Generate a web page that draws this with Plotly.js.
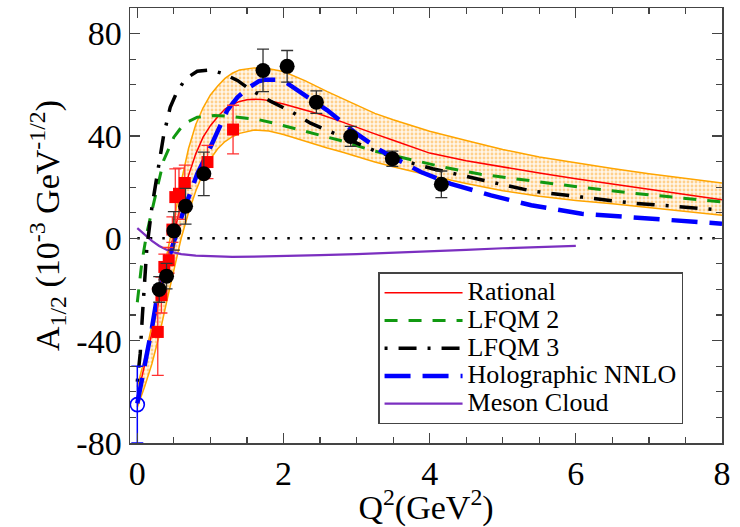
<!DOCTYPE html>
<html>
<head>
<meta charset="utf-8">
<script src="https://cdn.plot.ly/plotly-3.0.1.min.js"></script>
<style>html,body{margin:0;padding:0;background:#fff}#chart{width:740px;height:527px}</style>
</head>
<body>
<div id="chart"></div>
<script>
// ---- Data ----
const bandX = [0,0.1,0.2,0.3,0.4,0.5,0.6,0.7,0.8,0.9,1.0,1.1,1.2,1.3,1.4,1.6,1.8,2.0,2.3,2.6,2.8,3.0,3.25,3.5,3.75,4.0,4.5,5.0,5.5,6.0,6.5,7.0,7.5,8.0];
const bandUpper = [-58,-47,-34,-21,-7,7,22,35,44.5,51,56,59.5,62.5,64.5,65.8,66.6,66.3,65.2,61.5,57.3,54.6,52,48.8,46.3,44,41.8,38.2,34.7,31.8,29.4,27.3,25.2,23.3,21.6];
const bandLower = [-66,-58,-49,-38,-25,-12,0,10,18.5,25.5,31,35,37.8,39.7,41,42.3,41.9,40.6,37.8,35.3,33.7,32,29.8,28,26.2,24.5,21.4,18.6,16.4,14.8,13.5,12,10.4,9];

const rationalX = [0,0.1,0.2,0.3,0.4,0.5,0.6,0.7,0.8,0.9,1.0,1.1,1.2,1.3,1.4,1.5,1.6,1.7,1.8,2.0,2.3,2.5,2.8,3.0,3.25,3.5,3.75,4.0,4.5,5.0,5.5,6.0,6.5,7.0,7.5,8.0];
const rationalY = [-62,-50,-37,-24,-11,2,14,24.5,33,39.5,44,47.5,50.5,52.3,53.5,54.1,54.3,54.2,53.8,52.5,50.2,48.5,45.5,43.3,40.8,38.3,35.8,33.3,30.3,27.8,25.5,23.3,21.2,19.2,17.1,15.1];

const lfqm2X = [0,0.03,0.06,0.09,0.13,0.18,0.27,0.36,0.5,0.64,0.82,1.05,1.28,1.41,1.64,1.87,2.33,2.78,3.24,3.7,4.16,4.7,5.39,6.08,6.76,7.4,8];
const lfqm2Y = [-25,-17,-10,-4.7,2,8.3,20,30.4,39.5,44.8,47.3,48,47.6,47.1,46.5,45,41.5,38.2,34.1,31.1,28,25,22.4,19.9,17.7,15.9,14.2];

const lfqm3X = [0,0.04,0.07,0.1,0.13,0.2,0.29,0.36,0.45,0.54,0.66,0.82,1.0,1.18,1.37,1.55,1.82,2.1,2.37,2.65,2.97,3.24,3.79,4.04,4.7,5.39,6.08,6.76,7.4,8];
const lfqm3Y = [-56,-45,-30,-17,-4,12.2,29.1,40.2,51.2,57.1,62.3,65.3,65.8,64.3,61.7,58,53.6,49.6,45,41.5,37.6,34.3,29.1,27.2,22.9,18.5,16.1,13.8,12.4,11];

const holoX = [0,0.11,0.2,0.27,0.45,0.6,0.82,1.0,1.23,1.37,1.53,1.66,1.75,1.9,2.05,2.24,2.6,2.97,3.33,3.88,4.29,4.84,5.39,6.08,6.76,7.4,8];
const holoY = [-64.5,-49,-35,-23,-6,8,25.2,35.6,50,55.1,59,61.3,62,62,60.6,57.1,50,41.5,34.3,25.9,21.3,16.8,12.9,9.6,8.1,6.8,5.7];

const mesonX = [0,0.1,0.2,0.3,0.4,0.5,0.6,0.8,1.0,1.3,1.6,2.0,2.5,3.0,3.5,4.0,4.5,5.0,5.5,6.0];
const mesonY = [4,1.5,-1,-3,-4.5,-5.5,-6.2,-6.8,-7.1,-7.3,-7.2,-7.0,-6.6,-6.2,-5.7,-5.1,-4.5,-3.9,-3.4,-3.0];

const zeroX = [0, 8];
const zeroY = [0, 0];

const blackX = [0.30,0.40,0.50,0.66,0.91,1.72,2.05,2.45,2.92,3.49,4.16];
const blackY = [-20,-14.8,2.9,12.5,25.2,65.6,67.2,53.2,39.8,31.1,21.1];
const blackErr = [5,5,7.5,7,8.5,8.3,6.2,4.4,3.9,3,5.2];

const redX = [0.28,0.33,0.37,0.43,0.48,0.52,0.57,0.65,0.96,1.31];
const redY = [-36.6,-22.2,-11.2,-8.6,3.4,16.1,17.4,21.6,29.8,42.5];
const redErr = [17,7,5,5,5,11,10,7,6.5,9.5];

const photonX = [0];
const photonY = [-65];
const photonErr = [15];

const xTickVals = [0,2,4,6,8];
const yTickVals = [-80,-40,0,40,80];

const seriesNames = ['Rational', 'LFQM 2', 'LFQM 3', 'Holographic NNLO', 'Meson Cloud'];

// ---- Traces ----
const FONT = '"Liberation Serif", "Times New Roman", serif';
const big = s => '<span style="font-size:26px">' + s + '</span>';
const traces = [
  {x: bandX, y: bandLower, mode: 'lines', line: {color: '#FFA500', width: 1.5}, showlegend: false, hoverinfo: 'skip'},
  {x: bandX, y: bandUpper, mode: 'lines', line: {color: '#FFA500', width: 1.5}, fill: 'tonexty',
   fillcolor: 'rgba(255,205,130,0.28)',
   fillpattern: {shape: '.', fgcolor: '#FFD08C', bgcolor: 'rgba(255,240,218,0.6)', size: 4, solidity: 0.4},
   showlegend: false, hoverinfo: 'skip'},
  {x: zeroX, y: zeroY, mode: 'lines', line: {color: '#000', width: 2.5, dash: '2.5px,10px'}, showlegend: false},
  {x: mesonX, y: mesonY, mode: 'lines', name: big(seriesNames[4]), legendrank: 5, line: {color: '#7B2FC0', width: 2.2}},
  {x: rationalX, y: rationalY, mode: 'lines', name: big(seriesNames[0]), legendrank: 1, line: {color: '#FF0000', width: 1.5}},
  {x: lfqm2X, y: lfqm2Y, mode: 'lines', name: big(seriesNames[1]), legendrank: 2, line: {color: '#119911', width: 3, dash: '13px,11px'}},
  {x: lfqm3X, y: lfqm3Y, mode: 'lines', name: big(seriesNames[2]), legendrank: 3, line: {color: '#000', width: 3.5, dash: '3px,11px,18px,11px'}},
  {x: holoX, y: holoY, mode: 'lines', name: big(seriesNames[3]), legendrank: 4, line: {color: '#0000FF', width: 4.5, dash: '26px,12px'}},
  {x: redX, y: redY, mode: 'markers', showlegend: false,
   marker: {symbol: 'square', size: 12, color: '#FF0000'},
   error_y: {type: 'data', array: redErr, color: '#FF3030', thickness: 1.3, width: 6}},
  {x: blackX, y: blackY, mode: 'markers', showlegend: false,
   marker: {symbol: 'circle', size: 15, color: '#000'},
   error_y: {type: 'data', array: blackErr, color: '#333', thickness: 1.3, width: 6}},
  {x: photonX, y: photonY, mode: 'markers', showlegend: false, cliponaxis: false,
   marker: {symbol: 'circle-open', size: 14, color: '#0000FF', line: {width: 1.6, color: '#0000FF'}},
   error_y: {type: 'data', array: photonErr, color: '#0000FF', thickness: 1.5, width: 6}}
];

const axisCommon = {
  showgrid: false, zeroline: false, showline: true, linecolor: '#444', linewidth: 1.5,
  mirror: 'ticks', ticks: 'inside', ticklen: 10, tickwidth: 1.3, tickcolor: '#444',
  tickfont: {family: FONT, size: 34, color: '#000'}
};

const layout = {
  width: 740, height: 527,
  margin: {l: 130, r: 18, t: 8, b: 84},
  paper_bgcolor: '#fff', plot_bgcolor: '#fff',
  font: {family: FONT, color: '#000'},
  xaxis: Object.assign({}, axisCommon, {
    range: [-0.1, 8], tickvals: xTickVals, ticktext: xTickVals.map(String),
    minor: {dtick: 0.5, tick0: 0, ticks: 'inside', ticklen: 6, tickcolor: '#444', tickwidth: 1.2},
    title: {text: 'Q<sup>2</sup>(GeV<sup>2</sup>)', font: {family: FONT, size: 34}, standoff: 0}
  }),
  yaxis: Object.assign({}, axisCommon, {
    range: [-80, 90], tickvals: yTickVals, ticktext: yTickVals.map(String),
    minor: {dtick: 10, tick0: 0, ticks: 'inside', ticklen: 6, tickcolor: '#444', tickwidth: 1.2},
    title: {text: 'A<sub>1/2</sub> (10<sup>-3</sup> GeV<sup>-1/2</sup>)', font: {family: FONT, size: 34}, standoff: 6}
  }),
  legend: {
    x: 0.419, y: 0.392, xanchor: 'left', yanchor: 'top',
    bgcolor: '#fff', bordercolor: '#444', borderwidth: 1.5,
    font: {family: FONT, size: 19, color: '#000'},
    itemwidth: 78, traceorder: 'normal'
  },
  showlegend: true
};

Plotly.newPlot('chart', traces, layout, {displayModeBar: false, staticPlot: true});
</script>
</body>
</html>
